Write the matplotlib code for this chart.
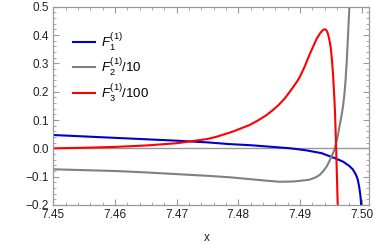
import matplotlib
matplotlib.use("Agg")
import matplotlib.pyplot as plt
from matplotlib.ticker import MultipleLocator

plt.rcParams['font.family'] = ['Liberation Sans', 'DejaVu Sans']
plt.rcParams['mathtext.fontset'] = 'custom'
plt.rcParams['mathtext.rm'] = 'Liberation Sans'
plt.rcParams['mathtext.it'] = 'Liberation Sans:italic'

# F1 (blue)
x1 = [7.450, 7.455, 7.460, 7.465, 7.470, 7.475, 7.4785, 7.482, 7.485, 7.4885,
      7.491, 7.4935, 7.4957, 7.497, 7.498, 7.4986, 7.4991, 7.4994, 7.4996,
      7.4998, 7.4999, 7.49995]
y1 = [0.047, 0.042, 0.037, 0.032, 0.027, 0.021, 0.015, 0.011, 0.006, 0.0,
      -0.007, -0.017, -0.035, -0.047, -0.062, -0.075, -0.094, -0.112, -0.135,
      -0.165, -0.19, -0.22]

# F2/10 (gray)
x2 = [7.450, 7.455, 7.460, 7.465, 7.470, 7.475, 7.4785, 7.482, 7.485, 7.4867,
      7.489, 7.4915, 7.4925, 7.4932, 7.4938, 7.4944, 7.4950, 7.4955, 7.4958,
      7.4961, 7.4964, 7.4967, 7.4970, 7.4972, 7.4974, 7.4976, 7.4978, 7.4980,
      7.4981]
y2 = [-0.074, -0.077, -0.080, -0.085, -0.091, -0.097, -0.102, -0.109, -0.115,
      -0.118, -0.117, -0.111, -0.103, -0.094, -0.080, -0.062, -0.035, -0.010,
      0.012, 0.040, 0.075, 0.110, 0.150, 0.188, 0.240, 0.310, 0.400, 0.490,
      0.550]

# F3/100 (red)
x3 = [7.450, 7.455, 7.460, 7.465, 7.470, 7.4727, 7.475, 7.4765, 7.4791, 7.4818,
      7.4830, 7.4845, 7.4856, 7.4865, 7.4875, 7.4888, 7.4895, 7.4900, 7.4908,
      7.4916, 7.4922, 7.4927, 7.4932, 7.4936, 7.4939, 7.4942, 7.4944, 7.4946,
      7.4948, 7.4950, 7.4952, 7.4954, 7.4956, 7.4957, 7.4958, 7.4959, 7.4960,
      7.4961, 7.4962]
y3 = [0.0, 0.002, 0.005, 0.010, 0.018, 0.026, 0.033, 0.041, 0.059, 0.082,
      0.096, 0.116, 0.135, 0.152, 0.175, 0.213, 0.235, 0.253, 0.290,
      0.333, 0.362, 0.386, 0.404, 0.415, 0.420, 0.419, 0.413, 0.400,
      0.380, 0.355, 0.310, 0.250, 0.170, 0.120, 0.050, -0.020, -0.100,
      -0.180, -0.250]

fig = plt.figure(figsize=(3.74, 2.45), dpi=100)
ax = fig.add_axes([0.1426, 0.1633, 0.8440, 0.8094])

ax.axhline(0, color='#999999', lw=1.0, zorder=1)
ax.plot(x1, y1, color='#0000cc', lw=1.5, label=r'$F_1^{(1)}$')
ax.plot(x2, y2, color='#808080', lw=1.5, label=r'$F_2^{(1)}$/10')
ax.plot(x3, y3, color='#ff0000', lw=1.5, label=r'$F_3^{(1)}$/100')

ax.set_xlim(7.45, 7.5012)
ax.set_ylim(-0.2, 0.5)
ax.xaxis.set_minor_locator(MultipleLocator(0.002))
ax.yaxis.set_minor_locator(MultipleLocator(0.02))
ax.set_xticks([7.45, 7.46, 7.47, 7.48, 7.49, 7.50])
ax.set_xticklabels(['7.45', '7.46', '7.47', '7.48', '7.49', '7.50'])
ax.set_yticks([-0.2, -0.1, 0.0, 0.1, 0.2, 0.3, 0.4, 0.5])
ax.set_yticklabels(['\u22120.2', '\u22120.1', '0.0', '0.1', '0.2', '0.3', '0.4', '0.5'])

for s in ax.spines.values():
    s.set_color('#999999')
    s.set_linewidth(0.9)
ax.tick_params(which='both', direction='in', top=True, right=True,
               color='#999999', labelsize=8.5, labelcolor='#222222', pad=3)
ax.tick_params(which='major', length=4, width=0.8)
ax.tick_params(which='minor', length=2, width=0.6)

ax.set_xlabel('x', fontsize=8.5, color='#222222')
ax.xaxis.set_label_coords(0.486, -0.135)

ax.legend(loc='upper left', bbox_to_anchor=(0.045, 0.905), frameon=False,
          fontsize=9.5, handlelength=1.7, handletextpad=0.45, labelspacing=0.3,
          borderaxespad=0)

fig.savefig('out.png', dpi=100)
